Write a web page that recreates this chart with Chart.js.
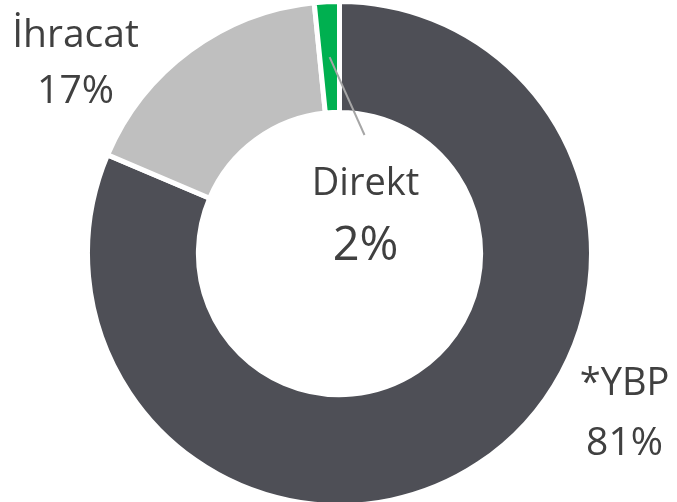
<!DOCTYPE html>
<html>
<head>
<meta charset="utf-8">
<script src="https://cdn.jsdelivr.net/npm/chart.js@4"></script>
<style>
  html, body { margin: 0; padding: 0; background: #fff; }
  #wrap { width: 677px; height: 502px; overflow: hidden; position: relative; }
  #salesChart { display: block; margin-top: -1px; }
</style>
</head>
<body>
<div id="wrap"><canvas id="salesChart" width="677" height="512"></canvas></div>
<script>
// chart data
const categories = ['*YBP', 'İhracat', 'Direkt'];
const shares = [81.4, 17.0, 1.6];
const sliceColors = ['#4e4f56', '#bfbfbf', '#00b050'];

// label placement relative to the doughnut centre (name baseline, percent baseline)
const labelPlaces = [
    { dx: 285, nameDy: 141.5, pctDy: 201.5, nameSize: 38, pctSize: 39 },
    { dx: -264, nameDy: -206.5, pctDy: -150.5, nameSize: 39, pctSize: 39 },
    { dx: 26, nameDy: -58.5, pctDy: 6.5, nameSize: 38, pctSize: 47 }
];
const leaderEnd = { dx: 25, dy: -118.5 };

const textColor = '#404040';
const fontFamily = '"Open Sans", sans-serif';

// Plugin to draw the labels and the leader line for the small slice
const labelPlugin = {
    id: 'sliceLabels',
    afterDatasetsDraw(chart) {
        const ctx = chart.ctx;
        const meta = chart.getDatasetMeta(0);
        const cx = meta.data[0].x;
        const cy = meta.data[0].y;
        const total = shares.reduce((a, b) => a + b, 0);

        // leader line from the Direkt slice to its label
        const small = meta.data[2].getCenterPoint();
        ctx.save();
        ctx.strokeStyle = '#a6a6a6';
        ctx.lineWidth = 2;
        ctx.beginPath();
        ctx.moveTo(small.x, small.y);
        ctx.lineTo(cx + leaderEnd.dx, cy + leaderEnd.dy);
        ctx.stroke();

        ctx.fillStyle = textColor;
        ctx.textAlign = 'center';
        ctx.textBaseline = 'alphabetic';
        categories.forEach((name, i) => {
            const p = labelPlaces[i];
            const pct = Math.round(shares[i] / total * 100) + '%';
            ctx.font = p.nameSize + 'px ' + fontFamily;
            ctx.fillText(name, cx + p.dx, cy + p.nameDy);
            ctx.font = p.pctSize + 'px ' + fontFamily;
            ctx.fillText(pct, cx + p.dx, cy + p.pctDy);
        });
        ctx.restore();
    }
};

const ctx = document.getElementById('salesChart').getContext('2d');
window.myChart = new Chart(ctx, {
    type: 'doughnut',
    data: {
        labels: categories,
        datasets: [{
            data: shares,
            backgroundColor: sliceColors,
            borderColor: '#ffffff',
            borderWidth: 5
        }]
    },
    options: {
        responsive: false,
        animation: false,
        cutout: '56%',
        layout: { padding: { top: 0, bottom: 3, left: 2, right: 0 } },
        plugins: {
            legend: { display: false },
            tooltip: { enabled: false }
        }
    },
    plugins: [labelPlugin]
});
</script>
</body>
</html>
